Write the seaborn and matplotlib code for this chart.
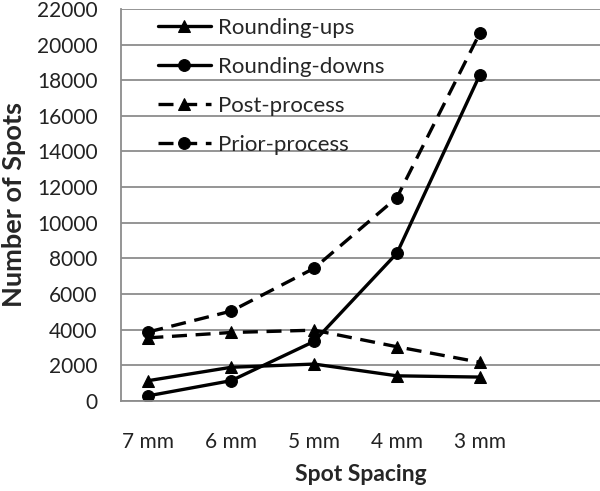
import numpy as np
import pandas as pd
import seaborn as sns
import matplotlib.pyplot as plt

# Datos
spacing = ["7 mm", "6 mm", "5 mm", "4 mm", "3 mm"]
rounding_ups = [1150, 1900, 2080, 1420, 1350]
rounding_downs = [300, 1150, 3350, 8300, 18300]
post_process = [3550, 3850, 3980, 3050, 2180]
prior_process = [3880, 5050, 7450, 11420, 20640]

sns.set_style("white")
plt.rcParams["font.family"] = ["Lato", "DejaVu Sans"]

fig = plt.figure(figsize=(6, 4.91), dpi=100)
ax = fig.add_axes([0.2017, 0.183, 0.7983, 0.799])

x = np.arange(len(spacing))
dash = (0, (4.5, 2.6))
series = [
    ("Rounding-ups", rounding_ups, "^", "-"),
    ("Rounding-downs", rounding_downs, "o", "-"),
    ("Post-process", post_process, "^", dash),
    ("Prior-process", prior_process, "o", dash),
]
for name, vals, mk, ls in series:
    sns.lineplot(x=x, y=vals, ax=ax, color="black", linewidth=2.4,
                 marker=mk, markersize=8.5, markeredgecolor="black",
                 linestyle=ls, label=name)

ax.set_xlim(-0.33, 5.45)
ax.set_ylim(0, 22000)
ax.set_yticks(np.arange(0, 22001, 2000))
ax.set_xticks(x)
ax.set_xticklabels(spacing)
ax.tick_params(axis="both", length=0, labelsize=15, colors="#222222")
ax.tick_params(axis="x", pad=22)
ax.tick_params(axis="y", pad=17)
ax.grid(axis="y", color="#8c8c8c", linewidth=1.3)
ax.set_axisbelow(True)
for s in ["top", "right"]:
    ax.spines[s].set_visible(False)
for s in ["left", "bottom"]:
    ax.spines[s].set_color("#8c8c8c")
    ax.spines[s].set_linewidth(1.3)

ax.set_xlabel("Spot Spacing", fontsize=16.5, fontweight="bold", labelpad=9)
ax.set_ylabel("Number of Spots", fontsize=19.5, fontweight="bold", labelpad=8)

ax.legend(loc="upper left", bbox_to_anchor=(0.035, 1.028), frameon=False,
          fontsize=16, labelspacing=0.85, handlelength=2.4, handletextpad=0.3)

fig.savefig("out.png", dpi=100)
